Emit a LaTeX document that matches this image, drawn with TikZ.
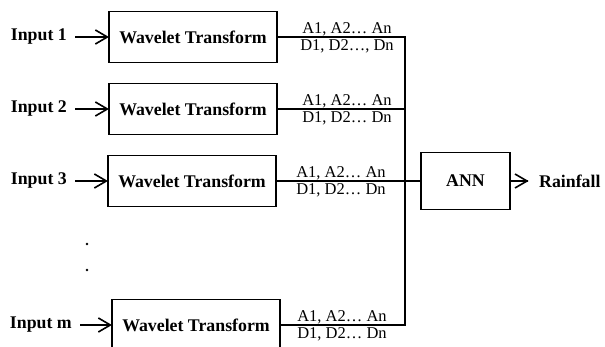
\documentclass[tikz,border=0pt]{standalone}
\usepackage{fontspec}
\setmainfont{Liberation Serif}
\tikzset{
  wt/.style={draw, line width=1.3pt, minimum width=168pt, minimum height=51pt, inner sep=0pt, font=\fontsize{17.8}{20}\selectfont\bfseries},
  inp/.style={inner sep=0pt, anchor=east, font=\fontsize{17.8}{20}\selectfont\bfseries},
  lbl/.style={inner sep=1pt, font=\fontsize{16.5}{18}\selectfont},
  wire/.style={line width=1.5pt},
  arr/.style={line width=1.5pt},
  chev/.style={line width=1.6pt, line join=miter, miter limit=10}
}
\newcommand{\mychev}[1]{\draw[chev] ([shift={(-13,-7)}]#1) -- ([shift={(-1,0)}]#1) -- ([shift={(-13,7)}]#1);}
\begin{document}
\begin{tikzpicture}[x=1pt,y=-1pt]
\useasboundingbox (0,0) rectangle (605,347);
% boxes
\node[wt] (b1) at (193,37) {Wavelet Transform};
\node[wt] (b2) at (193,109) {Wavelet Transform};
\node[wt] (b3) at (192,181) {Wavelet Transform};
\node[wt] (bm) at (196,325) {Wavelet Transform};
\node[draw, line width=1.3pt, minimum width=89pt, minimum height=57pt, inner sep=0pt, font=\fontsize{17.8}{20}\selectfont\bfseries] (ann) at (465.5,181) {ANN};
% inputs
\node[inp] (i1) at (67,37) {Input 1};
\node[inp] (i2) at (67,109) {Input 2};
\node[inp] (i3) at (67,181) {Input 3};
\node[inp] (im) at (72,325) {Input m};
\draw[arr, shorten <=8pt, shorten >=2pt] (i1.east) -- (b1.west);
\draw[arr, shorten <=8pt, shorten >=2pt] (i2.east) -- (b2.west);
\draw[arr, shorten <=8pt, shorten >=2pt] (i3.east) -- (b3.west);
\draw[arr, shorten <=8pt, shorten >=2pt] (im.east) -- (bm.west);
\mychev{b1.west}
\mychev{b2.west}
\mychev{b3.west}
\mychev{bm.west}
% bus
\coordinate (t1) at (405,37);
\coordinate (t2) at (405,109);
\coordinate (t3) at (405,181);
\coordinate (tm) at (405,325);
\draw[wire] (b1.east) -- (t1) -- (tm) -- (bm.east);
\draw[wire] (b2.east) -- (t2);
\draw[wire] (b3.east) -- (t3);
\draw[wire, line width=2pt] (t3) -- (ann.west);
% labels
\node[lbl, anchor=south] (a1) at (347,37) {A1, A2\ldots\ An};
\node[lbl, anchor=north] (d1) at (347,38) {D1, D2\ldots, Dn};
\node[lbl, anchor=south] (a2) at (347,109) {A1, A2\ldots\ An};
\node[lbl, anchor=north] (d2) at (347,110) {D1, D2\ldots\ Dn};
\node[lbl, anchor=south] (a3) at (341,181) {A1, A2\ldots\ An};
\node[lbl, anchor=north] (d3) at (341,182) {D1, D2\ldots\ Dn};
\node[lbl, anchor=south] (am) at (342,325) {A1, A2\ldots\ An};
\node[lbl, anchor=north] (dm) at (342,326) {D1, D2\ldots\ Dn};
% output
\node[inp, anchor=west] (rf) at (539,181) {Rainfall};
\coordinate (rt) at (528,181);
\draw[arr] (ann.east) -- (rt);
\mychev{rt}
% dots
\fill (87,244) circle (1.3);
\fill (87,270) circle (1.3);
\end{tikzpicture}
\end{document}
